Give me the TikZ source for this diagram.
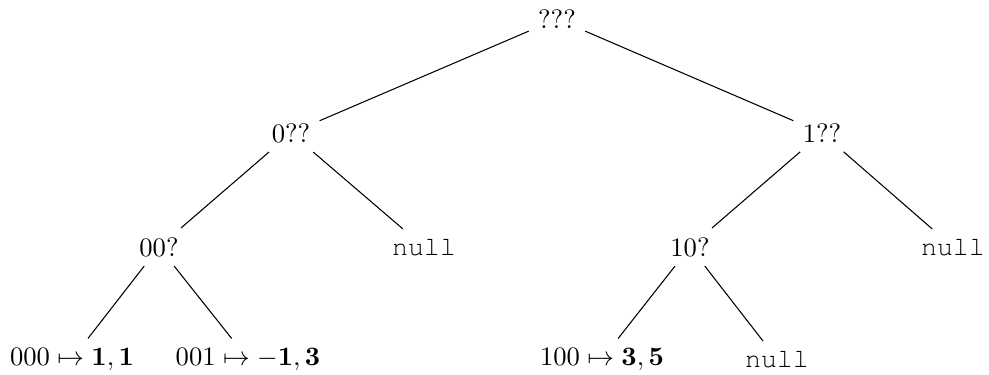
\documentclass[tikz,border=0pt]{standalone}
\usepackage{amsmath}
\usepackage[T1,TU]{fontenc}
\newcommand\nullword{{\fontencoding{T1}\fontfamily{pcr}\selectfont null}}
\begin{document}
\begin{tikzpicture}[x=0.013193cm, y=-0.013193cm,
  tnode/.style={inner sep=3.33pt},
  edge/.style={draw=black, line width=0.4pt}]
\useasboundingbox (0,0) rectangle (989,374);
\node[tnode] (root) at (557,19) {???};
\node[tnode] (n0) at (291,133) {0??};
\node[tnode] (n1) at (822,133) {1??};
\node[tnode] (n00) at (159,247) {00?};
\node[tnode] (n01) at (424,247) {\nullword};
\node[tnode] (n10) at (690,247) {10?};
\node[tnode] (n11) at (953,247) {\nullword};
\node[tnode] (l000) at (72,359) {$000 \mapsto \mathbf{1,1}$};
\node[tnode] (l001) at (248,359) {$001 \mapsto \mathbf{-1,3}$};
\node[tnode] (l100) at (602,359) {$100 \mapsto \mathbf{3,5}$};
\node[tnode] (l101) at (777,359) {\nullword};
\draw[edge] (root) -- (n0);
\draw[edge] (root) -- (n1);
\draw[edge] (n0) -- (n00);
\draw[edge] (n0) -- (n01);
\draw[edge] (n1) -- (n10);
\draw[edge] (n1) -- (n11);
\draw[edge] (n00) -- (l000);
\draw[edge] (n00) -- (l001);
\draw[edge] (n10) -- (l100);
\draw[edge] (n10) -- (l101);
\end{tikzpicture}
\end{document}
